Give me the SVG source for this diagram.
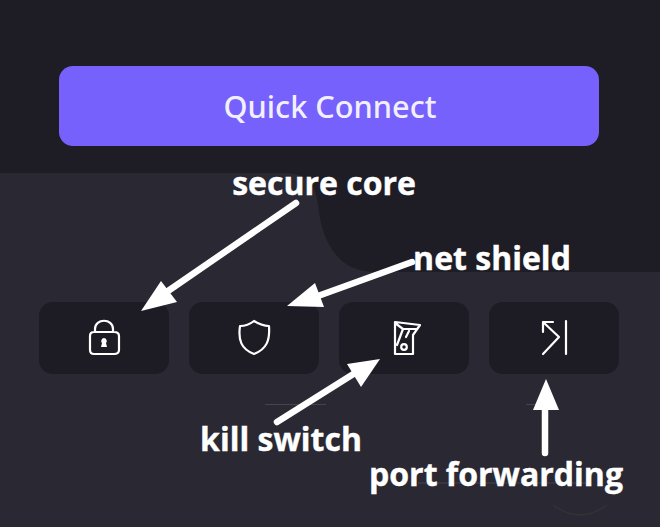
<svg xmlns="http://www.w3.org/2000/svg" width="660" height="527" viewBox="0 0 660 527">
<style>
.tile{fill:#1d1c24}
.ic{fill:none;stroke:#fff;stroke-width:2.2;stroke-linecap:round;stroke-linejoin:round}
.lb{font-family:"Open Sans","Noto Sans",sans-serif;font-weight:700;font-size:32px;fill:#fff;stroke:#fff;stroke-width:.4}
.ar{stroke:#fff;stroke-width:6.5;stroke-linecap:round;fill:none}
.hd{fill:#fff}
.mk{stroke:#45444d;stroke-width:1;fill:none}
</style>
<rect width="660" height="527" fill="#2a2933"/>
<path d="M0 0H660V272H375C340 272 322 245 318 205C316 184 306 173 285 173H0Z" fill="#1e1d25"/>
<path class="mk" d="M265 404.500H326M526 404.500H546M418 483H590"/>
<path d="M553 505Q580 525 607 505" fill="none" stroke="#33323b" stroke-width="1.500"/>
<g id="quick-connect">
<rect x="59" y="66" width="540" height="80" rx="14" fill="#7661fc"/>
<text x="330" y="118" text-anchor="middle" font-family="Noto Sans,Open Sans,sans-serif" font-size="30.700" font-weight="500" fill="#f2f0ff">Quick Connect</text>
</g>
<g id="secure-core-button">
<rect class="tile" x="39" y="302" width="130" height="72" rx="14"/>
<path class="ic" d="M95 332V329C95 318 113 318 113 329V332M94 332H114Q119 332 119 336V350Q119 354 114 354H94Q90 354 90 350V336Q90 332 94 332Z"/>
<path d="M104 338a3 3 0 0 1 2 5l1 4h-6l1-4a3 3 0 0 1 2-5Z" fill="#fff"/>
</g>
<g id="net-shield-button">
<rect class="tile" x="189" y="302" width="130" height="72" rx="14"/>
<path class="ic" d="M254 321C260 325 264 326 269 326C270 340 267 349 254 354C241 349 238 340 240 326C245 326 249 325 254 321Z"/>
</g>
<g id="kill-switch-button">
<rect class="tile" x="339" y="302" width="130" height="72" rx="14"/>
<path class="ic" d="M395 322L420 325L413 335V354H395ZM395 323L403 329H417M403 329L397 345"/>
<path class="ic" d="M406 337L409 331"/>
<circle class="ic" cx="404" cy="347" r="2.800"/>
</g>
<g id="port-forwarding-button">
<rect class="tile" x="489" y="302" width="130" height="72" rx="14"/>
<path class="ic" d="M566 321V354M543 354L559 337L543 322M543 332V322H553"/>
</g>
<g id="connectors">
<path class="ar" d="M296 203L168 291"/><path class="hd" d="M141 311L161 281L177 302Z"/>
<path class="ar" d="M412 262L318 296"/><path class="hd" d="M287 306L315 283L324 307Z"/>
<path class="ar" d="M277 422L355 373"/><path class="hd" d="M380 359L347 364L361 387Z"/>
<path class="ar" d="M545 453V405"/><path class="hd" d="M546 379L559 410H533Z"/>
</g>
<g id="labels">
<text class="lb" x="324" y="195" text-anchor="middle">secure core</text>
<text class="lb" x="492" y="270" text-anchor="middle">net shield</text>
<text class="lb" x="281" y="451" text-anchor="middle">kill switch</text>
<text class="lb" x="496" y="486" text-anchor="middle">port forwarding</text>
</g>
</svg>
